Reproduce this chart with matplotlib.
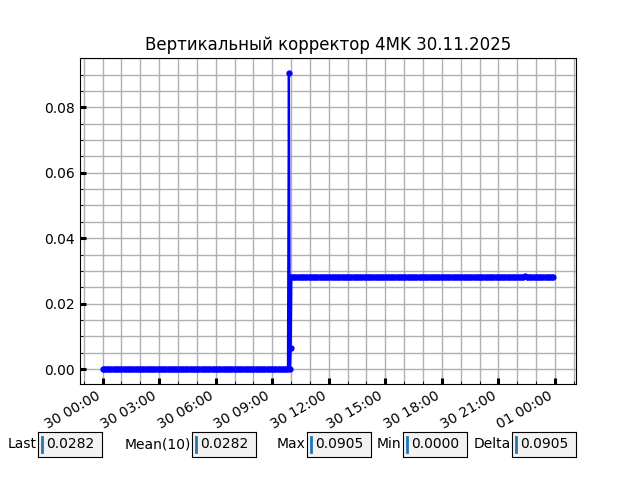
import matplotlib
matplotlib.use('Agg')
import matplotlib.pyplot as plt
import matplotlib.dates as mdates
from matplotlib.ticker import MultipleLocator
import numpy as np
import pandas as pd

# участки с постоянным значением: начало, конец, значение
seg_start = ['2025-11-30 00:00', '2025-11-30 10:04', '2025-11-30 22:25', '2025-11-30 22:30']
seg_end = ['2025-11-30 09:50', '2025-11-30 22:20', '2025-11-30 22:25', '2025-11-30 23:55']
seg_value = [0.0, 0.0282, 0.0285, 0.0282]

# скачок около 10:00
spike_t = ['2025-11-30 09:53', '2025-11-30 09:56', '2025-11-30 09:59', '2025-11-30 10:01']
spike_v = [0.0905, 0.0, 0.0065, 0.0282]

stat_names = ['Last', 'Mean(10)', 'Max', 'Min', 'Delta']
stat_values = ['0.0282', '0.0282', '0.0905', '0.0000', '0.0905']

t = []
v = []
for s, e, val in zip(seg_start, seg_end, seg_value):
    tt = pd.date_range(s, e, freq='5min')
    t.extend(tt)
    v.extend([val]*len(tt))
t.extend(pd.to_datetime(spike_t))
v.extend(spike_v)
df = pd.DataFrame({'t': t, 'v': v}).sort_values('t')

fig = plt.figure(figsize=(6.4, 4.8), dpi=100)
ax = fig.add_axes([0.125, 0.2, 0.775, 0.679])
ax.plot(df['t'], df['v'], 'o-', color='blue', lw=1.6, ms=3.5)
ax.set_title('Вертикальный корректор 4MK 30.11.2025')

ax.xaxis.set_major_locator(mdates.HourLocator(byhour=range(0, 24, 3)))
ax.xaxis.set_minor_locator(mdates.HourLocator())
ax.xaxis.set_major_formatter(mdates.DateFormatter('%d %H:%M'))
ax.yaxis.set_minor_locator(MultipleLocator(0.005))
ax.yaxis.set_major_locator(MultipleLocator(0.02))
ax.tick_params(which='both', direction='in')
ax.tick_params(which='major', width=2.2, length=4)
ax.grid(which='both', color='#b0b0b0', lw=1)
ax.set_axisbelow(True)
for lab in ax.get_xticklabels():
    lab.set_rotation(30)
    lab.set_ha('right')

# поля со статистикой
box_x = [38, 192, 307, 403, 512]
for name, val, x0 in zip(stat_names, stat_values, box_x):
    bax = fig.add_axes([x0/640, 23/480, 64/640, 25/480], facecolor='#f2f2f2')
    bax.set_xticks([])
    bax.set_yticks([])
    bax.set_xlim(0, 1)
    bax.set_ylim(0, 1)
    bax.text(-0.02, 0.5, name, ha='right', va='center', transform=bax.transAxes, fontsize=10)
    bax.text(0.125, 0.52, val, ha='left', va='center', transform=bax.transAxes, fontsize=10)
    bax.plot([0.06, 0.06], [0.22, 0.8], color='#1f77b4', lw=2)

fig.savefig('out.png', dpi=100)
